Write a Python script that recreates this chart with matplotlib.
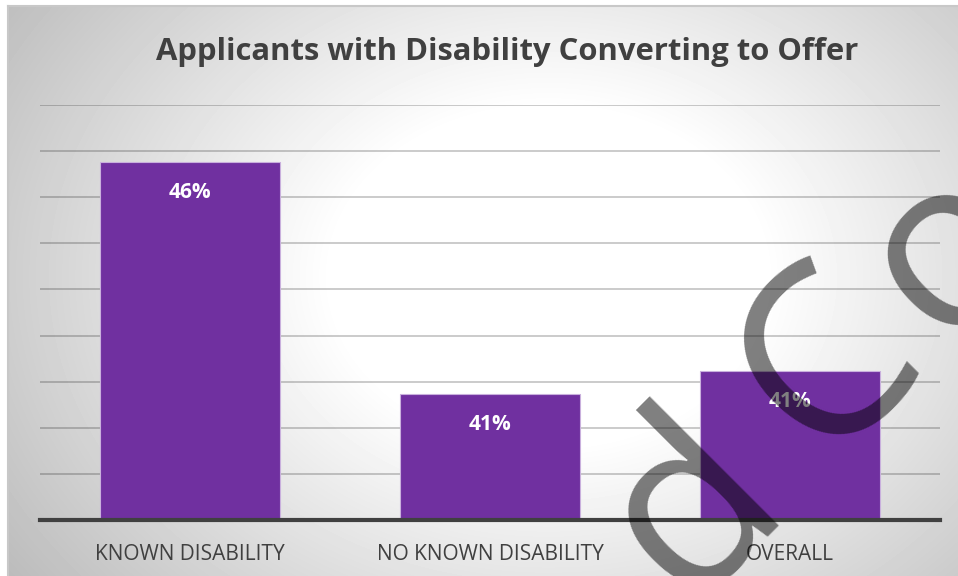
import numpy as np
import matplotlib.pyplot as plt
from matplotlib.ticker import MultipleLocator

# data
categories = ['KNOWN DISABILITY', 'NO KNOWN DISABILITY', 'OVERALL']
rates = [0.4576, 0.4074, 0.4124]
title = 'Applicants with Disability Converting to Offer'
y_min, y_max, y_step = 0.38, 0.47, 0.01

# watermark letters overlaid on the screenshot
watermark = ['d', 'C', 'o']
watermark_xy = [(694, 510), (830, 366), (951, 252)]

W, H = 958, 576
fig = plt.figure(figsize=(W / 100, H / 100), dpi=100)

# chart panel with a soft radial gradient
bg = fig.add_axes([8 / W, 0, 1 - 8 / W, 1 - 6 / H])
yy, xx = np.mgrid[0:H - 6, 0:W - 8]
r = np.hypot((xx - 540) / 540, (yy - 270) / 420)
shade = 1 - 0.32 * np.clip(r - 0.4, 0, None)
bg.imshow(shade, cmap='gray', vmin=0, vmax=1, aspect='auto', interpolation='bilinear')
bg.set_xticks([])
bg.set_yticks([])
for side in ['right', 'bottom']:
    bg.spines[side].set_visible(False)
for side in ['top', 'left']:
    bg.spines[side].set_color('#c8c8c8')
    bg.spines[side].set_linewidth(1.5)

# plot area
ax = fig.add_axes([40 / W, 1 - 520 / H, 900 / W, (520 - 105) / H])
ax.patch.set_alpha(0)
x = np.arange(len(categories))
bars = ax.bar(x, rates, width=0.6, color='#7030A0', edgecolor='#c9b0dd', linewidth=0.8, zorder=3)
ax.set_xlim(-0.5, len(categories) - 0.5)
ax.set_ylim(y_min, y_max)
ax.yaxis.set_major_locator(MultipleLocator(y_step))
ax.grid(axis='y', color='black', alpha=0.22, linewidth=1.3, zorder=0)
ax.tick_params(axis='y', left=False, labelleft=False)
ax.tick_params(axis='x', length=0, pad=17, labelsize=15, labelcolor='#404040')
ax.set_xticks(x)
ax.set_xticklabels(categories, family='Open Sans')
for side in ['top', 'right', 'left']:
    ax.spines[side].set_visible(False)
ax.spines['bottom'].set_color('#404040')
ax.spines['bottom'].set_linewidth(3)
ax.spines['bottom'].set_zorder(4)

for i, v in enumerate(rates):
    ax.annotate(f'{v:.0%}', (x[i], v), xytext=(0, -22), textcoords='offset points',
                ha='center', va='center', color='white', fontsize=15,
                fontweight='bold', family='Open Sans', zorder=5)

fig.text(507 / W, 1 - 52 / H, title, ha='center', va='center', fontsize=22.3,
         fontweight='bold', color='#404040', family='Open Sans')

for ch, (px, py) in zip(watermark, watermark_xy):
    fig.text(px / W, 1 - py / H, ch, rotation=45, rotation_mode='anchor',
             ha='center', va='center', fontsize=173, color='black', alpha=0.5,
             family='Open Sans', zorder=10)

fig.savefig('out.png', dpi=100)
